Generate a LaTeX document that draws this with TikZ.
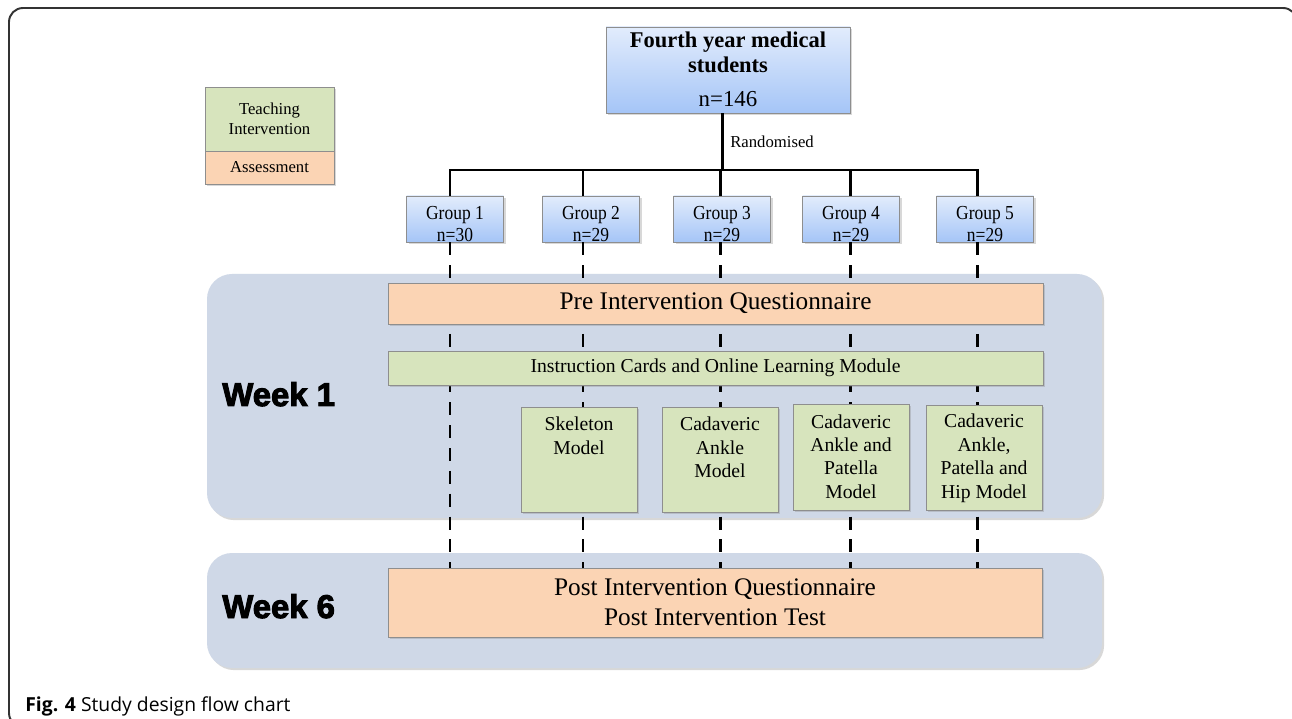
\documentclass[tikz,border=0pt]{standalone}
\usepackage{fontspec}
\setmainfont{Liberation Serif}
\newfontfamily\weekfont[FakeBold=3]{Liberation Sans}
\newfontfamily\condfont[FakeStretch=0.88]{Liberation Serif}
\newfontfamily\capfont{Open Sans}
\usetikzlibrary{shadows}
\newlength{\pxu}\setlength{\pxu}{0.02cm}
\newcommand\fs[2]{\fontsize{#1}{#2}\selectfont}
\newcommand\topbox[4]{\begin{minipage}[c][#1][t]{#2}\centering\vspace*{\dimexpr#3-0.7\baselineskip\relax}\strut#4\end{minipage}}
\definecolor{bluetop}{HTML}{E2ECFC}
\definecolor{bluebot}{HTML}{A5C5F7}
\definecolor{peach}{HTML}{FBD4B4}
\definecolor{leaf}{HTML}{D7E4BD}
\definecolor{panel}{HTML}{CFD8E7}
\definecolor{edge}{HTML}{8E8E8E}
\begin{document}
\begin{tikzpicture}[x=0.02cm,y=-0.02cm,
  shade/.style={drop shadow={shadow xshift=1.2pt,shadow yshift=-1.2pt,opacity=0.3}},
  bluebox/.style={draw=edge,line width=0.5pt,top color=bluetop,bottom color=bluebot,inner sep=0pt,shade},
  peachbox/.style={draw=edge,line width=0.5pt,fill=peach,inner sep=0pt,shade},
  leafbox/.style={draw=edge,line width=0.5pt,fill=leaf,inner sep=0pt,shade},
  panelbox/.style={fill=panel,rounded corners=25\pxu,inner sep=0pt,shade},
  link/.style={line width=1.7pt},
  dashlink/.style={line width=1.7pt,dash pattern=on 7.4pt off 5.6pt},
  weeklabel/.style={anchor=base west,inner sep=0pt,font=\weekfont\bfseries\fs{18.7}{20}},
  grouptext/.style={font=\condfont\fs{11.3}{12.5}},
  modeltext/.style={font=\fs{11.2}{13.3}}
]
\useasboundingbox (0,0) rectangle (1292,719);
\clip (0,0) rectangle (1292,719);
\fill[white] (0,0) rectangle (1292,719);

% outer frame
\draw[line width=1.1pt,black!80,rounded corners=14\pxu] (9,8) rectangle (1297,727);

% panels
\node[panelbox,minimum width=895\pxu,minimum height=244\pxu] (wk1) at (654.5,396) {};
\node[panelbox,minimum width=895\pxu,minimum height=115\pxu] (wk6) at (654.5,610.5) {};

% legend
\node[leafbox,minimum width=129\pxu,minimum height=64\pxu,align=center,font=\fs{9.5}{11.3}] (legT) at (269.5,119) {Teaching\\Intervention};
\node[peachbox,minimum width=129\pxu,minimum height=33\pxu,font=\fs{9.5}{11.3}] (legA) at (269.5,167.5) {Assessment};

% top box
\node[bluebox,minimum width=244\pxu,minimum height=86\pxu,font=\bfseries\fs{12.8}{14.2}] (top) at (728,70)
  {\topbox{86\pxu}{244\pxu}{21\pxu}{Fourth year medical\\students\\[9\pxu]{\mdseries\fs{13}{14.2}n=146}}};

% column coordinates
\coordinate (j) at (722,170);
\coordinate (c1) at (450,170);
\coordinate (c2) at (583,170);
\coordinate (c3) at (720,170);
\coordinate (c4) at (850,170);
\coordinate (c5) at (977,170);

% group boxes
\node[bluebox,grouptext,minimum width=97\pxu,minimum height=46\pxu] (g1) at (455,219) {\topbox{46\pxu}{97\pxu}{24\pxu}{Group 1\\n=30}};
\node[bluebox,grouptext,minimum width=97\pxu,minimum height=46\pxu] (g2) at (591,219) {\topbox{46\pxu}{97\pxu}{24\pxu}{Group 2\\n=29}};
\node[bluebox,grouptext,minimum width=97\pxu,minimum height=46\pxu] (g3) at (722,219) {\topbox{46\pxu}{97\pxu}{24\pxu}{Group 3\\n=29}};
\node[bluebox,grouptext,minimum width=97\pxu,minimum height=46\pxu] (g4) at (851,219) {\topbox{46\pxu}{97\pxu}{24\pxu}{Group 4\\n=29}};
\node[bluebox,grouptext,minimum width=97\pxu,minimum height=46\pxu] (g5) at (985,219) {\topbox{46\pxu}{97\pxu}{24\pxu}{Group 5\\n=29}};

% post box position (needed for dashed ends)
\coordinate (postc) at (715,602.5);

% dashed connectors (behind boxes)
\draw[dashlink] (g1.south -| c1) -- (postc -| c1);
\draw[dashlink] (g2.south -| c2) -- (postc -| c2);
\draw[dashlink] (g3.south -| c3) -- (postc -| c3);
\draw[dashlink] (g4.south -| c4) -- (postc -| c4);
\draw[dashlink] (g5.south -| c5) -- (postc -| c5);

% solid connectors
\draw[link] (top.south -| j) -- (j);
\draw[link,line join=miter] (g1.north -| c1) -- (c1) -- (c5) -- (g5.north -| c5);
\draw[link] (c2) -- (g2.north -| c2);
\draw[link] (c3) -- (g3.north -| c3);
\draw[link] (c4) -- (g4.north -| c4);
\node[anchor=base west,inner sep=0pt,font=\fs{9.5}{11}] (rnd) at (730,148) {Randomised};

% week 1 contents
\node[peachbox,minimum width=655\pxu,minimum height=41\pxu,font=\fs{14.4}{17}] (pre) at (715.5,303.5) {Pre Intervention Questionnaire};
\node[leafbox,minimum width=655\pxu,minimum height=34\pxu,font=\fs{11.2}{13}] (instr) at (715.5,368) {Instruction Cards and Online Learning Module};
\node[leafbox,modeltext,minimum width=116\pxu,minimum height=105\pxu] (m2) at (579,459.5) {\topbox{105\pxu}{116\pxu}{24\pxu}{Skeleton\\Model}};
\node[leafbox,modeltext,minimum width=116\pxu,minimum height=105\pxu] (m3) at (720,459.5) {\topbox{105\pxu}{116\pxu}{24\pxu}{Cadaveric\\Ankle\\Model}};
\node[leafbox,modeltext,minimum width=116\pxu,minimum height=106\pxu] (m4) at (851,457) {\topbox{106\pxu}{116\pxu}{24\pxu}{Cadaveric\\Ankle and\\Patella\\Model}};
\node[leafbox,modeltext,minimum width=116\pxu,minimum height=105\pxu] (m5) at (984,457.5) {\topbox{105\pxu}{116\pxu}{23\pxu}{Cadaveric\\Ankle,\\Patella and\\Hip Model}};

% week 6 contents
\node[peachbox,minimum width=654\pxu,minimum height=69\pxu,align=center,font=\fs{14.4}{17}] (post) at (postc) {Post Intervention Questionnaire\\Post Intervention Test};

% week labels
\node[weeklabel] (w1) at (222,406) {Week 1};
\node[weeklabel] (w6) at (222,618) {Week 6};

% caption
\node[anchor=base west,inner sep=0pt,font=\capfont\fs{11}{13}] (cap) at (25,711) {\textbf{Fig. 4} Study design flow chart};
\end{tikzpicture}
\end{document}
